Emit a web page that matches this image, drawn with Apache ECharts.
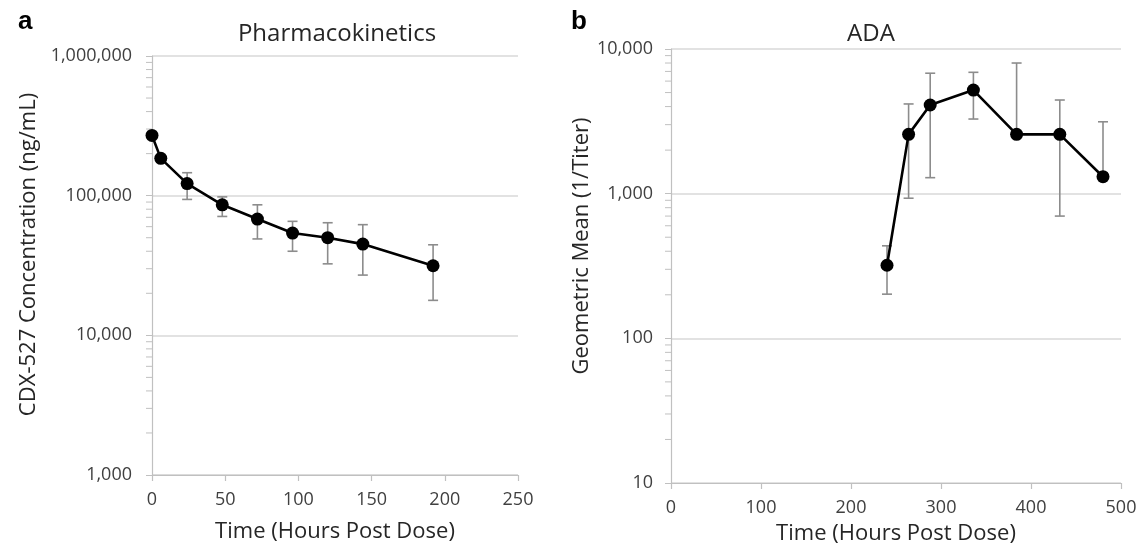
<!DOCTYPE html>
<html>
<head>
<meta charset="utf-8">
<script src="https://cdn.jsdelivr.net/npm/echarts@6/dist/echarts.min.js"></script>
<style>
  html, body { margin: 0; padding: 0; background: #fff; }
  #chart { width: 1145px; height: 557px; }
</style>
</head>
<body>
<div id="chart"></div>
<script>
// panel a: pharmacokinetics (hours, ng/mL)
var pkHours = [0, 6, 24, 48, 72, 96, 120, 144, 192];
var pkMean = [270000, 185000, 122000, 86000, 68000, 54000, 50000, 45000, 31500];
var pkLow = [null, null, 94000, 71000, 49000, 40000, 32500, 27000, 17800];
var pkHigh = [null, null, 146000, 98000, 86000, 65500, 64000, 62000, 44500];

// panel b: ADA geometric mean titer
var adaHours = [240, 264, 288, 336, 384, 432, 480];
var adaMean = [320, 2570, 4100, 5200, 2570, 2570, 1310];
var adaLow = [202, 930, 1290, 3280, null, 700, null];
var adaHigh = [436, 4170, 6800, 6900, 8000, 4440, 3140];

var pkTicksX = [0, 50, 100, 150, 200, 250];
var adaTicksX = [0, 100, 200, 300, 400, 500];

var FONT = 'Open Sans';
var chart = echarts.init(document.getElementById('chart'));

// minor ticks of a log axis: 2..9 x 10^k
function minorLog(lo, hi) {
  var out = [];
  for (var d = lo; d < hi; d *= 10) {
    for (var m = 2; m < 10; m++) out.push(d * m);
  }
  return out;
}

function pairs(xs, ys) {
  return xs.map(function (x, i) { return [x, ys[i]]; });
}

function errData(xs, lows, highs, means) {
  return xs.map(function (x, i) {
    return [x, lows[i] == null ? means[i] : lows[i], highs[i] == null ? means[i] : highs[i], lows[i] != null ? 1 : 0, highs[i] != null ? 1 : 0];
  });
}

function renderErr(params, api) {
  var x = api.value(0);
  var lo = api.coord([x, api.value(1)]);
  var hi = api.coord([x, api.value(2)]);
  var cap = 5;
  var style = { stroke: '#8c8c8c', lineWidth: 1.6 };
  var kids = [{ type: 'line', shape: { x1: lo[0], y1: lo[1], x2: hi[0], y2: hi[1] }, style: style }];
  if (api.value(3)) kids.push({ type: 'line', shape: { x1: lo[0] - cap, y1: lo[1], x2: lo[0] + cap, y2: lo[1] }, style: style });
  if (api.value(4)) kids.push({ type: 'line', shape: { x1: hi[0] - cap, y1: hi[1], x2: hi[0] + cap, y2: hi[1] }, style: style });
  return { type: 'group', children: kids };
}

function renderMinor(params, api) {
  var p = api.coord([api.value(0), api.value(1)]);
  return {
    type: 'line',
    shape: { x1: p[0] - 6, y1: p[1], x2: p[0], y2: p[1] },
    style: { stroke: '#c0c0c0', lineWidth: 1 }
  };
}

function fmt(v) {
  return Math.round(v).toLocaleString('en-US');
}

function xAxisOf(idx, ticks, gap) {
  return {
    type: 'value', gridIndex: idx,
    min: ticks[0], max: ticks[ticks.length - 1], interval: ticks[1] - ticks[0],
    name: 'Time (Hours Post Dose)', nameLocation: 'middle', nameGap: gap,
    nameTextStyle: { fontFamily: FONT, fontSize: 22, color: '#262626' },
    axisLine: { lineStyle: { color: '#c0c0c0', width: 1.2 } },
    axisTick: { show: true, length: 6, lineStyle: { color: '#c0c0c0', width: 1.2 } },
    axisLabel: { fontFamily: FONT, fontSize: 18, color: '#404040', margin: 16 },
    splitLine: { show: false }
  };
}

function yAxisOf(idx, lo, hi, name, gap, labelMargin, shift) {
  return {
    type: 'log', logBase: 10, gridIndex: idx, min: lo, max: hi,
    name: name, nameLocation: 'middle', nameGap: gap,
    nameTextStyle: { fontFamily: FONT, fontSize: 22, color: '#262626', padding: [0, 0, 0, shift] },
    axisLine: { show: true, lineStyle: { color: '#c0c0c0', width: 1.2 } },
    axisTick: { show: true, length: 6, lineStyle: { color: '#c0c0c0', width: 1 } },
    axisLabel: { fontFamily: FONT, fontSize: 18, color: '#404040', margin: labelMargin, formatter: fmt },
    splitLine: { show: true, lineStyle: { color: '#d9d9d9', width: 1.5 } }
  };
}

var option = {
  backgroundColor: '#ffffff',
  animation: false,
  title: [
    { text: 'a', left: 13, top: 4, textStyle: { fontFamily: 'Liberation Sans', fontSize: 26, fontWeight: 'bold', color: '#000' } },
    { text: 'b', left: 566, top: 4, textStyle: { fontFamily: 'Liberation Sans', fontSize: 26, fontWeight: 'bold', color: '#000' } },
    { text: 'Pharmacokinetics', left: 332, top: 17, textAlign: 'center', textStyle: { fontFamily: FONT, fontSize: 24, fontWeight: 'normal', color: '#262626' } },
    { text: 'ADA', left: 866, top: 17, textAlign: 'center', textStyle: { fontFamily: FONT, fontSize: 24, fontWeight: 'normal', color: '#262626' } }
  ],
  grid: [
    { left: 152, right: 627, top: 56, bottom: 82 },
    { left: 671, right: 24, top: 49, bottom: 74 }
  ],
  xAxis: [xAxisOf(0, pkTicksX, 46), xAxisOf(1, adaTicksX, 40)],
  yAxis: [
    yAxisOf(0, 1000, 1000000, 'CDX-527 Concentration (ng/mL)', 112, 20, 22),
    yAxisOf(1, 10, 10000, 'Geometric Mean (1/Titer)', 68, 18, 40)
  ],
  series: [
    {
      type: 'custom', xAxisIndex: 0, yAxisIndex: 0, z: 1, silent: true,
      renderItem: renderMinor,
      data: minorLog(1000, 1000000).map(function (v) { return [pkTicksX[0], v]; })
    },
    {
      type: 'custom', xAxisIndex: 1, yAxisIndex: 1, z: 1, silent: true,
      renderItem: renderMinor,
      data: minorLog(10, 10000).map(function (v) { return [adaTicksX[0], v]; })
    },
    {
      type: 'custom', xAxisIndex: 0, yAxisIndex: 0, z: 2,
      renderItem: renderErr, data: errData(pkHours, pkLow, pkHigh, pkMean)
    },
    {
      type: 'custom', xAxisIndex: 1, yAxisIndex: 1, z: 2,
      renderItem: renderErr, data: errData(adaHours, adaLow, adaHigh, adaMean)
    },
    {
      type: 'line', xAxisIndex: 0, yAxisIndex: 0, z: 3,
      data: pairs(pkHours, pkMean),
      symbol: 'circle', symbolSize: 13,
      itemStyle: { color: '#000' }, lineStyle: { color: '#000', width: 2.6 }
    },
    {
      type: 'line', xAxisIndex: 1, yAxisIndex: 1, z: 3,
      data: pairs(adaHours, adaMean),
      symbol: 'circle', symbolSize: 13,
      itemStyle: { color: '#000' }, lineStyle: { color: '#000', width: 2.6 }
    }
  ]
};

chart.setOption(option);
</script>
</body>
</html>
